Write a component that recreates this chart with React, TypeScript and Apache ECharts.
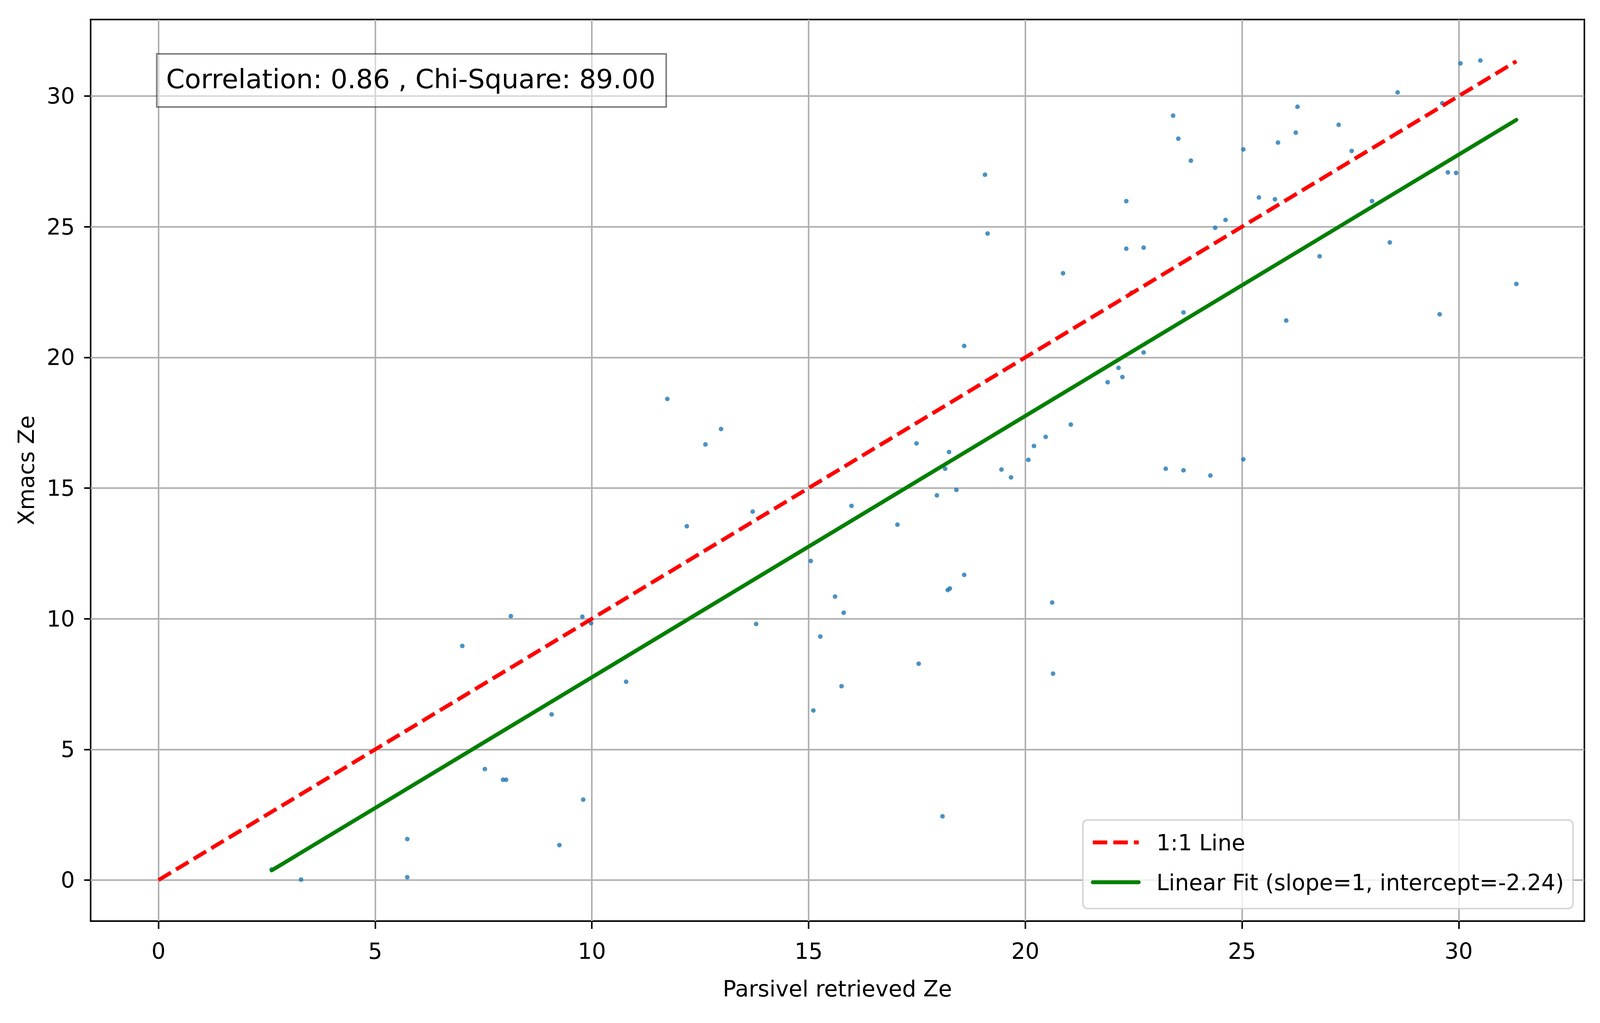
import React, { useEffect, useRef } from "react";
import * as echarts from "echarts";

// Parsivel retrieved Ze (x) and Xmacs Ze (y)
const parsivelZe: number[] = [
  2.61, 3.29, 5.74, 5.74, 7.01, 7.53, 7.95, 8.02, 8.13, 9.07,
  9.25, 9.78, 9.8, 9.98, 10.79, 11.74, 12.19, 12.62, 12.98, 13.71,
  13.79, 15.05, 15.11, 15.27, 15.61, 15.76, 15.81, 15.99, 17.05, 17.49,
  17.54, 17.96, 18.09, 18.15, 18.24, 18.21, 18.26, 18.41, 18.59, 18.59,
  19.07, 19.13, 19.45, 19.67, 20.07, 20.2, 20.47, 20.62, 20.64, 20.87,
  21.05, 21.9, 22.15, 22.24, 22.33, 22.33, 22.45, 22.73, 22.73, 23.24,
  23.41, 23.53, 23.65, 23.65, 23.82, 24.27, 24.38, 24.62, 25.03, 25.03,
  25.39, 25.76, 25.83, 26.02, 26.24, 26.28, 26.79, 27.23, 27.53, 28.0,
  28.41, 28.59, 29.56, 29.62, 29.75, 29.94, 30.04, 30.5, 31.33,
];
const xmacsZe: number[] = [
  0.41, 0.02, 1.57, 0.11, 8.96, 4.25, 3.84, 3.84, 10.1, 6.34,
  1.34, 10.08, 3.08, 9.83, 7.59, 18.41, 13.54, 16.67, 17.26, 14.1,
  9.8, 12.21, 6.49, 9.32, 10.85, 7.42, 10.23, 14.32, 13.6, 16.71,
  8.28, 14.72, 2.44, 15.74, 16.38, 11.1, 11.16, 14.93, 11.68, 20.44,
  26.99, 24.74, 15.71, 15.41, 16.08, 16.61, 16.96, 10.62, 7.9, 23.22,
  17.43, 19.05, 19.6, 19.25, 25.98, 24.16, 22.48, 24.2, 20.19, 15.74,
  29.25, 28.37, 21.72, 15.68, 27.53, 15.48, 24.96, 25.26, 27.96, 16.1,
  26.12, 26.05, 28.22, 21.41, 28.6, 29.59, 23.87, 28.9, 27.9, 25.98,
  24.4, 30.14, 21.65, 29.73, 27.08, 27.06, 31.25, 31.36, 22.81,
];

const xTickValues: number[] = [0, 5, 10, 15, 20, 25, 30];
const yTickValues: number[] = [0, 5, 10, 15, 20, 25, 30];

const FIT_SLOPE = 1;
const FIT_INTERCEPT = -2.24;
const CORRELATION = "0.86";
const CHI_SQUARE = "89.00";

const X_LABEL = "Parsivel retrieved Ze";
const Y_LABEL = "Xmacs Ze";
const ONE_TO_ONE_NAME = "1:1 Line";
const FIT_NAME = `Linear Fit (slope=${FIT_SLOPE}, intercept=${FIT_INTERCEPT})`;

const FONT = "DejaVu Sans";
const REF_W = 4981;
const REF_H = 2620;

export default function App() {
  const ref = useRef<HTMLDivElement>(null);
  const vw = typeof window !== "undefined" ? window.innerWidth : REF_W;
  const vh = typeof window !== "undefined" ? window.innerHeight : REF_H;

  useEffect(() => {
    if (!ref.current) return;
    const chart = echarts.init(ref.current, undefined, { renderer: "svg" });
    const W = ref.current.clientWidth || REF_W;
    const H = ref.current.clientHeight || REF_H;
    const Sx = W / REF_W;
    const Sy = H / REF_H;
    const X = (v: number) => v * Sx;
    const Y = (v: number) => v * Sy;
    const F = (v: number) => v * Sx;
    const L = (v: number) => v * Math.sqrt(Sx * Sy);

    const points = parsivelZe.map((x, i) => [x, xmacsZe[i]]);
    const xMaxData = Math.max(...parsivelZe);
    const xMinData = Math.min(...parsivelZe);
    const oneToOne = [
      [0, 0],
      [xMaxData, xMaxData],
    ];
    const fitLine = [
      [xMinData, FIT_SLOPE * xMinData + FIT_INTERCEPT],
      [xMaxData, FIT_SLOPE * xMaxData + FIT_INTERCEPT],
    ];

    const xLo = 0;
    const xHi = xMaxData;
    const xPad = 0.05 * (xHi - xLo);
    const yLo = 0;
    const yHi = Math.max(...xmacsZe, xMaxData);
    const yPad = 0.05 * (yHi - yLo);
    const xMin = xLo - xPad;
    const xMax = xHi + xPad;
    const yMin = yLo - yPad;
    const yMax = yHi + yPad;

    const axisLabelStyle = { fontSize: F(69), color: "#000", fontFamily: FONT };
    const spine = {
      show: true,
      onZero: false,
      lineStyle: { color: "#000", width: L(4.4), cap: "square" },
    };

    const option: any = {
      animation: false,
      backgroundColor: "#ffffff",
      textStyle: { fontFamily: FONT },
      grid: {
        left: X(282),
        top: Y(50),
        right: W - X(4932),
        bottom: H - Y(2359),
        containLabel: false,
        outerBoundsMode: "none",
        show: false,
      },
      xAxis: [
        {
          type: "value",
          min: xMin,
          max: xMax,
          position: "bottom",
          name: X_LABEL,
          nameLocation: "middle",
          nameGap: Y(144),
          nameTextStyle: { ...axisLabelStyle },
          axisLine: spine,
          axisTick: {
            show: true,
            inside: false,
            length: Y(20),
            customValues: xTickValues,
            lineStyle: { color: "#000", width: L(4.4) },
          },
          axisLabel: {
            ...axisLabelStyle,
            customValues: xTickValues,
            margin: Y(48),
          },
          splitLine: { show: false },
        },
        {
          type: "value",
          min: xMin,
          max: xMax,
          position: "top",
          axisLine: spine,
          axisTick: { show: false },
          axisLabel: { show: false },
          splitLine: { show: false },
        },
      ],
      yAxis: [
        {
          type: "value",
          min: yMin,
          max: yMax,
          position: "left",
          name: Y_LABEL,
          nameLocation: "middle",
          nameGap: X(166),
          nameRotate: 90,
          nameTextStyle: { ...axisLabelStyle },
          axisLine: spine,
          axisTick: {
            show: true,
            inside: false,
            length: X(20),
            customValues: yTickValues,
            lineStyle: { color: "#000", width: L(4.4) },
          },
          axisLabel: {
            ...axisLabelStyle,
            customValues: yTickValues,
            margin: X(49),
          },
          splitLine: { show: false },
        },
        {
          type: "value",
          min: yMin,
          max: yMax,
          position: "right",
          axisLine: spine,
          axisTick: { show: false },
          axisLabel: { show: false },
          splitLine: { show: false },
        },
      ],
      legend: {
        data: [ONE_TO_ONE_NAME, FIT_NAME],
        orient: "vertical",
        right: W - X(4897),
        bottom: H - Y(2327),
        padding: [Y(24), X(28), Y(34), X(25)],
        itemWidth: X(143),
        itemHeight: Y(2),
        itemGap: Y(35),
        backgroundColor: "rgba(255,255,255,0.8)",
        borderColor: "rgba(204,204,204,0.8)",
        borderWidth: L(4.4),
        borderRadius: L(14),
        selectedMode: false,
        itemStyle: { opacity: 0 },
        textStyle: {
          fontSize: F(69),
          lineHeight: Y(67),
          color: "#000",
          fontFamily: FONT,
          padding: [0, 0, 0, X(49)],
        },
        lineStyle: { width: L(11) },
        z: 20,
      },
      graphic: [
        {
          type: "rect",
          z: 30,
          shape: { x: X(488), y: Y(138), width: X(1586), height: Y(136) },
          style: {
            fill: "rgba(255,255,255,0.5)",
            stroke: "rgba(0,0,0,0.5)",
            lineWidth: L(4.4),
          },
        },
        {
          type: "text",
          z: 31,
          x: X(517),
          y: Y(202),
          style: {
            text: `Correlation: ${CORRELATION} , Chi-Square: ${CHI_SQUARE}`,
            fontSize: F(83),
            fontFamily: FONT,
            fill: "#000",
            align: "left",
            verticalAlign: "middle",
          },
        },
      ],
      series: [
        {
          name: "Data",
          type: "scatter",
          data: points,
          symbolSize: L(13),
          itemStyle: { color: "#1f77b4" },
          z: 2,
          silent: true,
          markLine: {
            silent: true,
            z: 1,
            symbol: ["none", "none"],
            label: { show: false },
            emphasis: { disabled: true },
            lineStyle: { color: "#b0b0b0", width: L(4.4), type: "solid" },
            data: [
              ...xTickValues.map((v) => ({ xAxis: v })),
              ...yTickValues.map((v) => ({ yAxis: v })),
            ],
          },
        },
        {
          name: ONE_TO_ONE_NAME,
          type: "line",
          data: oneToOne,
          symbol: "none",
          z: 3,
          lineStyle: { color: "#ff0000", width: L(11), type: [L(41), L(17)], cap: "butt" },
          itemStyle: { color: "#ff0000" },
        },
        {
          name: FIT_NAME,
          type: "line",
          data: fitLine,
          symbol: "none",
          z: 3,
          lineStyle: { color: "#008000", width: L(11), type: "solid", cap: "round" },
          itemStyle: { color: "#008000" },
        },
      ],
    };

    chart.setOption(option);
    return () => {
      chart.dispose();
    };
  }, []);

  return (
    <div
      ref={ref}
      style={{ position: "absolute", left: 0, top: 0, width: vw, height: vh, overflow: "hidden" }}
    />
  );
}
